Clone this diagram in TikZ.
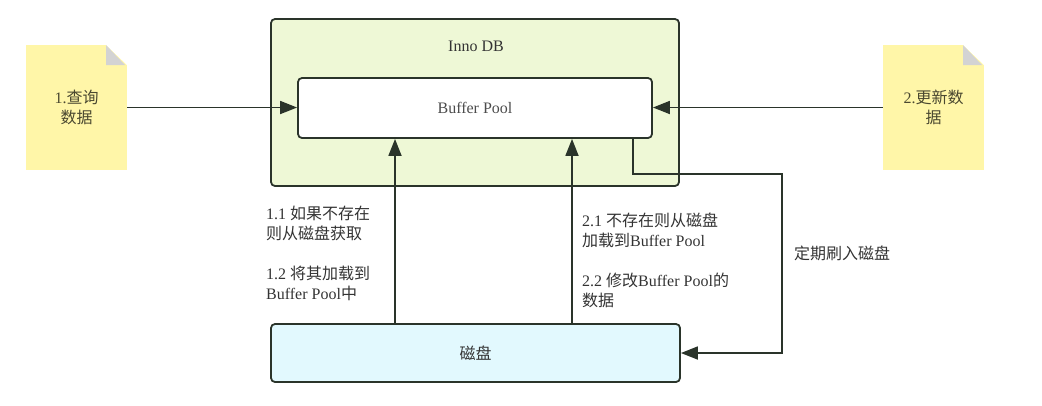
\documentclass[tikz,border=0pt]{standalone}
\usepackage{fontspec}
\setmainfont{Liberation Serif}
\newfontfamily\cjk{Noto Sans CJK SC}
\usetikzlibrary{arrows.meta}
\definecolor{edgecol}{HTML}{2A342A}
\definecolor{innofill}{HTML}{EEF8D6}
\definecolor{diskfill}{HTML}{E2F9FE}
\definecolor{notefill}{HTML}{FFF6A8}
\definecolor{foldcol}{HTML}{D3D3D3}
\definecolor{txtcol}{HTML}{333333}
\definecolor{notetxt}{HTML}{4A4830}
\tikzset{
  box/.style={draw=edgecol, line width=1.8pt, rounded corners=4pt, inner sep=0pt},
  arr/.style={draw=edgecol, line width=1.8pt, -{Triangle[length=17pt,width=13pt]}},
  line/.style={draw=edgecol, line width=1.8pt},
  note/.style={fill=notefill, minimum width=101pt, minimum height=125pt, inner sep=0pt,
    text=notetxt, align=center, font=\fontsize{16}{20}\selectfont,
    path picture={
      \fill[white] ([xshift=-21pt]path picture bounding box.north east) -- (path picture bounding box.north east) -- ([yshift=-20pt]path picture bounding box.north east) -- cycle;
      \fill[foldcol] ([xshift=-21pt]path picture bounding box.north east) -- ([xshift=-21pt,yshift=-20pt]path picture bounding box.north east) -- ([xshift=-2pt,yshift=-20pt]path picture bounding box.north east) -- cycle;
    }},
  lbl/.style={text=txtcol, align=left, anchor=west, inner sep=0pt, font=\fontsize{16}{20}\selectfont},
}
\begin{document}
\begin{tikzpicture}[x=1pt,y=-1pt]
\useasboundingbox (0,0) rectangle (1042,405);
% InnoDB container
\node[box, fill=innofill, minimum width=408pt, minimum height=167pt] (inno) at (475,102.5) {};
\node[text=txtcol, font=\fontsize{16}{20}\selectfont] (innolbl) at (476,46) {Inno DB};
% Buffer Pool
\node[box, fill=white, minimum width=354pt, minimum height=60pt, text=black!70, font=\fontsize{16}{20}\selectfont] (bp) at (475,108) {Buffer Pool};
% Disk
\node[box, fill=diskfill, minimum width=409pt, minimum height=58pt, text=txtcol, font=\fontsize{16}{20}\selectfont] (disk) at (475.5,353) {\cjk 磁盘};
% Notes
\node[note] (note1) at (76.5,107.5) {1.{\cjk 查询}\\{\cjk 数据}};
\node[note] (note2) at (933.5,107.5) {2.{\cjk 更新数}\\{\cjk 据}};
% Arrows
\draw[arr] (note1.east) -- (note1.east -| bp.west);
\draw[arr] (note2.west) -- (note2.west -| bp.east);
\coordinate (ua) at (395,0);
\coordinate (ub) at (572,0);
\draw[arr] (ua |- disk.north) -- (ua |- bp.south);
\draw[arr] (ub |- disk.north) -- (ub |- bp.south);
\coordinate (fl) at (633,174);
\coordinate (fr) at (782,174);
\coordinate (fb) at (782,353);
\draw[arr] (fl |- bp.south) -- (fl) -- (fr) -- (fb) -- (fb -| disk.east);
% Labels
\node[lbl] (l11) at (266,223) {1.1 {\cjk 如果不存在}\\{\cjk 则从磁盘获取}};
\node[lbl] (l12) at (266,283) {1.2 {\cjk 将其加载到}\\Buffer Pool{\cjk 中}};
\node[lbl] (l21) at (582,230) {2.1 {\cjk 不存在则从磁盘}\\{\cjk 加载到}Buffer Pool};
\node[lbl] (l22) at (582,290) {2.2 {\cjk 修改}Buffer Pool{\cjk 的}\\{\cjk 数据}};
\node[lbl] (lfl) at (794,253) {\cjk 定期刷入磁盘};
\end{tikzpicture}
\end{document}
